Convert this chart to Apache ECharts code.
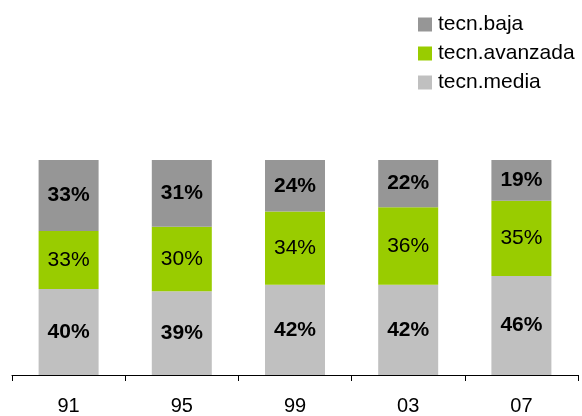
<!DOCTYPE html>
<html>
<head>
<meta charset="utf-8">
<script src="https://cdn.jsdelivr.net/npm/echarts@6/dist/echarts.min.js"></script>
<style>
html,body{margin:0;padding:0;background:#fff;}
#c{width:582px;height:416px;}
</style>
</head>
<body>
<div id="c"></div>
<script>
const categories = ['91', '95', '99', '03', '07'];
const media = [40, 39, 42, 42, 46];
const avanzada = [27, 30, 34, 36, 35];
const baja = [33, 31, 24, 22, 19];
const mediaLabels = ['40%', '39%', '42%', '42%', '46%'];
const avanzadaLabels = ['33%', '30%', '34%', '36%', '35%'];
const bajaLabels = ['33%', '31%', '24%', '22%', '19%'];

const FONT = '"Liberation Sans", Arial, sans-serif';
const chart = echarts.init(document.getElementById('c'), null, {renderer: 'canvas'});

function mkSeries(name, data, labels, color, bold) {
  return {
    name: name,
    type: 'bar',
    stack: 'total',
    barWidth: 60,
    data: data,
    itemStyle: {color: color},
    label: {
      show: true,
      position: 'inside',
      color: '#000',
      fontFamily: FONT,
      fontSize: 21,
      fontWeight: bold ? 'bold' : 'normal',
      formatter: function (p) { return labels[p.dataIndex]; }
    },
    emphasis: {disabled: true}
  };
}

chart.setOption({
  animation: false,
  backgroundColor: '#fff',
  grid: {left: 12, right: 4, top: 160, bottom: 40},
  legend: {
    orient: 'vertical',
    left: 413,
    top: 9,
    itemWidth: 14,
    itemHeight: 14,
    itemGap: 8,
    icon: 'rect',
    data: ['tecn.baja', 'tecn.avanzada', 'tecn.media'],
    textStyle: {fontFamily: FONT, fontSize: 21, color: '#000', padding: [0, 0, 0, 1]}
  },
  xAxis: {
    type: 'category',
    data: categories,
    boundaryGap: true,
    axisLine: {lineStyle: {color: '#000', width: 1}},
    axisTick: {show: true, length: 6, lineStyle: {color: '#000'}},
    axisLabel: {fontFamily: FONT, fontSize: 20, color: '#000', margin: 21}
  },
  yAxis: {
    type: 'value',
    min: 0,
    max: 100,
    show: false,
    splitLine: {show: false}
  },
  series: [
    mkSeries('tecn.media', media, mediaLabels, '#c0c0c0', true),
    mkSeries('tecn.avanzada', avanzada, avanzadaLabels, '#99cc00', false),
    mkSeries('tecn.baja', baja, bajaLabels, '#969696', true)
  ]
});
</script>
</body>
</html>
